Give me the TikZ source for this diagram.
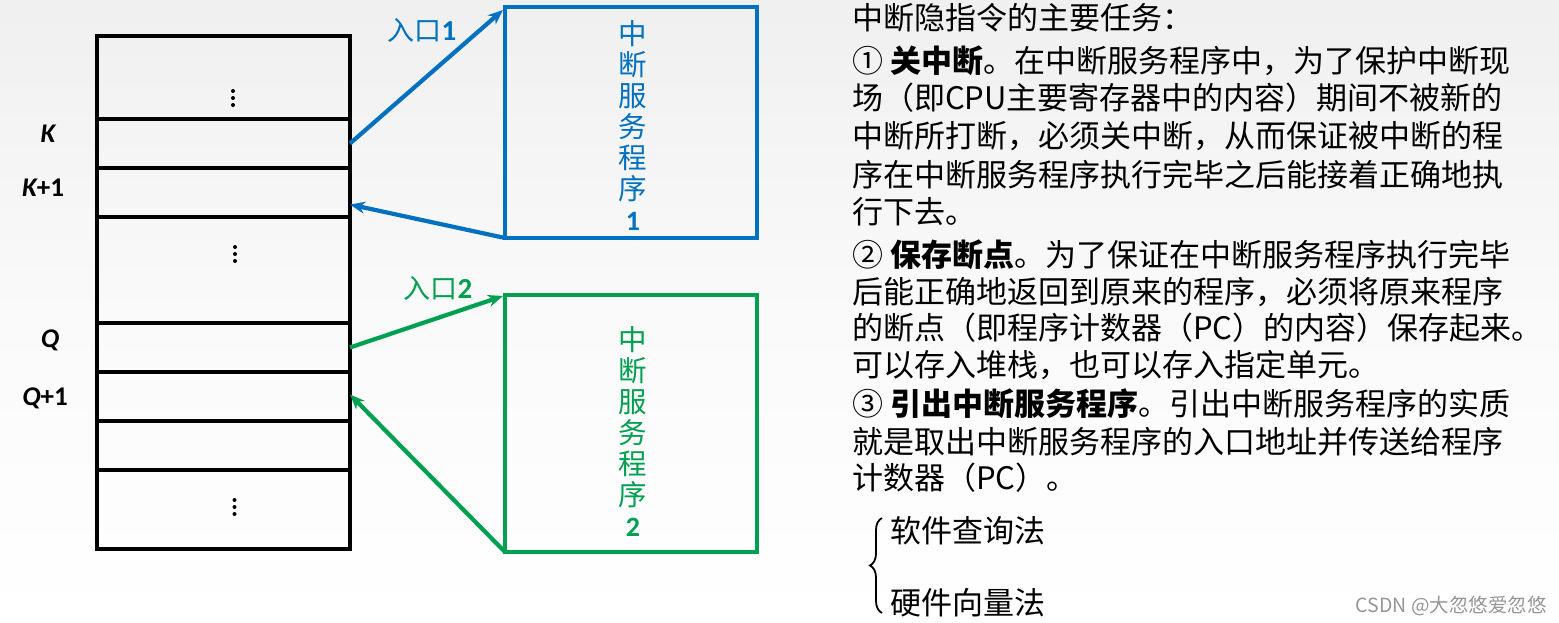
\documentclass[tikz,border=0pt]{standalone}
\usepackage{fontspec}
\setmainfont{Carlito}
\newfontfamily\cjk{Noto Sans CJK SC}
\usetikzlibrary{arrows.meta,decorations.pathreplacing}
\definecolor{iblue}{RGB}{0,112,192}
\definecolor{igreen}{RGB}{0,160,80}
\definecolor{wm}{RGB}{150,150,150}
\begin{document}
\begin{tikzpicture}[x=1pt,y=-1pt,
  cell/.style={draw=black,line width=3.5pt,minimum width=253pt,inner sep=0pt,outer sep=0pt},
  prog/.style={line width=4.5pt,minimum width=252pt,inner sep=0pt,outer sep=0pt},
  addr/.style={font=\fontsize{27}{29}\selectfont\bfseries\itshape},
  arr/.style={line width=4.2pt,-{Stealth[length=15pt,width=12pt]}},
  txt/.style={anchor=west,inner sep=0pt,font=\cjk\fontsize{31}{37}\selectfont},
  vtext/.style={align=center,font=\cjk\fontsize{28.5}{31}\selectfont},
  dot/.style={fill=black,circle,inner sep=0pt,minimum size=4pt}]
\useasboundingbox (0,0) rectangle (1559,623);
\shade[top color=gray!12,bottom color=white,middle color=gray!4] (0,0) rectangle (1559,623);

% memory cells
\node[cell,minimum height=83pt] (c1) at (223.5,77.5) {};
\node[cell,minimum height=49pt] (cK) at (223.5,143.5) {};
\node[cell,minimum height=49pt] (cK1) at (223.5,192.5) {};
\node[cell,minimum height=106pt] (c4) at (223.5,270) {};
\node[cell,minimum height=49pt] (cQ) at (223.5,347.5) {};
\node[cell,minimum height=49pt] (cQ1) at (223.5,396.5) {};
\node[cell,minimum height=49pt] (c7) at (223.5,445.5) {};
\node[cell,minimum height=79pt] (c8) at (223.5,509.5) {};
\foreach \x/\y in {233/91, 233/98, 233/105, 235/247, 235/254, 235/261, 234.5/500, 234.5/507, 234.5/514}
  \node[dot] at (\x,\y) {};

\node[addr] (lK) at (48,134) {K};
\node[addr] (lK1) at (43,188) {K{\upshape+1}};
\node[addr] (lQ) at (50,340) {Q};
\node[addr] (lQ1) at (45,398) {Q{\upshape+1}};

% service programs
\node[prog,draw=iblue,minimum height=231pt] (p1) at (631,122.5) {};
\node[prog,draw=igreen,minimum height=257pt] (p2) at (631,423.5) {};
\node[vtext,text=iblue] (t1) at (633,126) {中\\断\\服\\务\\程\\序\\{\rmfamily\bfseries\fontsize{28}{30}\selectfont 1}};
\node[vtext,text=igreen] (t2) at (633,432) {中\\断\\服\\务\\程\\序\\{\rmfamily\bfseries\fontsize{28}{30}\selectfont 2}};

% arrows
\draw[arr,iblue] (cK.east) -- ([xshift=-2pt,yshift=-3pt]p1.north west);
\draw[arr,iblue] (p1.south west) -- ([yshift=-12pt]cK1.east);
\draw[arr,igreen] (cQ.east) -- ([xshift=-2pt,yshift=-1pt]p2.north west);
\draw[arr,igreen] (p2.south west) -- ([yshift=2pt]cQ1.east);
\node[text=iblue,font=\cjk\fontsize{27}{27}\selectfont] (e1) at (422,30) {入口{\rmfamily\bfseries\fontsize{29}{29}\selectfont 1}};
\node[text=igreen,font=\cjk\fontsize{27}{27}\selectfont] (e2) at (438,288) {入口{\rmfamily\bfseries\fontsize{29}{29}\selectfont 2}};

% right text
\node[txt] (r1) at (852,18) {中断隐指令的主要任务：};
\node[txt] (r2) at (852,61) {① \textbf{关中断}。在中断服务程序中，为了保护中断现};
\node[txt] (r3) at (852,98) {场（即CPU主要寄存器中的内容）期间不被新的};
\node[txt] (r4) at (852,136) {中断所打断，必须关中断，从而保证被中断的程};
\node[txt] (r5) at (852,175) {序在中断服务程序执行完毕之后能接着正确地执};
\node[txt] (r6) at (852,212) {行下去。};
\node[txt] (r7) at (852,255) {② \textbf{保存断点}。为了保证在中断服务程序执行完毕};
\node[txt] (r8) at (852,292) {后能正确地返回到原来的程序，必须将原来程序};
\node[txt] (r9) at (852,328) {的断点（即程序计数器（PC）的内容）保存起来。};
\node[txt] (r10) at (852,365) {可以存入堆栈，也可以存入指定单元。};
\node[txt] (r11) at (852,404) {③ \textbf{引出中断服务程序}。引出中断服务程序的实质};
\node[txt] (r12) at (852,442) {就是取出中断服务程序的入口地址并传送给程序};
\node[txt] (r13) at (852,478) {计数器（PC）。};

% brace
\coordinate (bA) at (882,613);
\coordinate (bB) at (882,518);
\draw[line width=1.8pt,decorate,decoration={brace,amplitude=12pt}] (bA) -- (bB);
\node[txt] (s1) at (890,531) {软件查询法};
\node[txt] (s2) at (890,603) {硬件向量法};

\node[anchor=east,inner sep=0pt,text=wm,font=\cjk\fontsize{19.5}{20}\selectfont] (w) at (1547,606) {CSDN @大忽悠爱忽悠};
\end{tikzpicture}
\end{document}
